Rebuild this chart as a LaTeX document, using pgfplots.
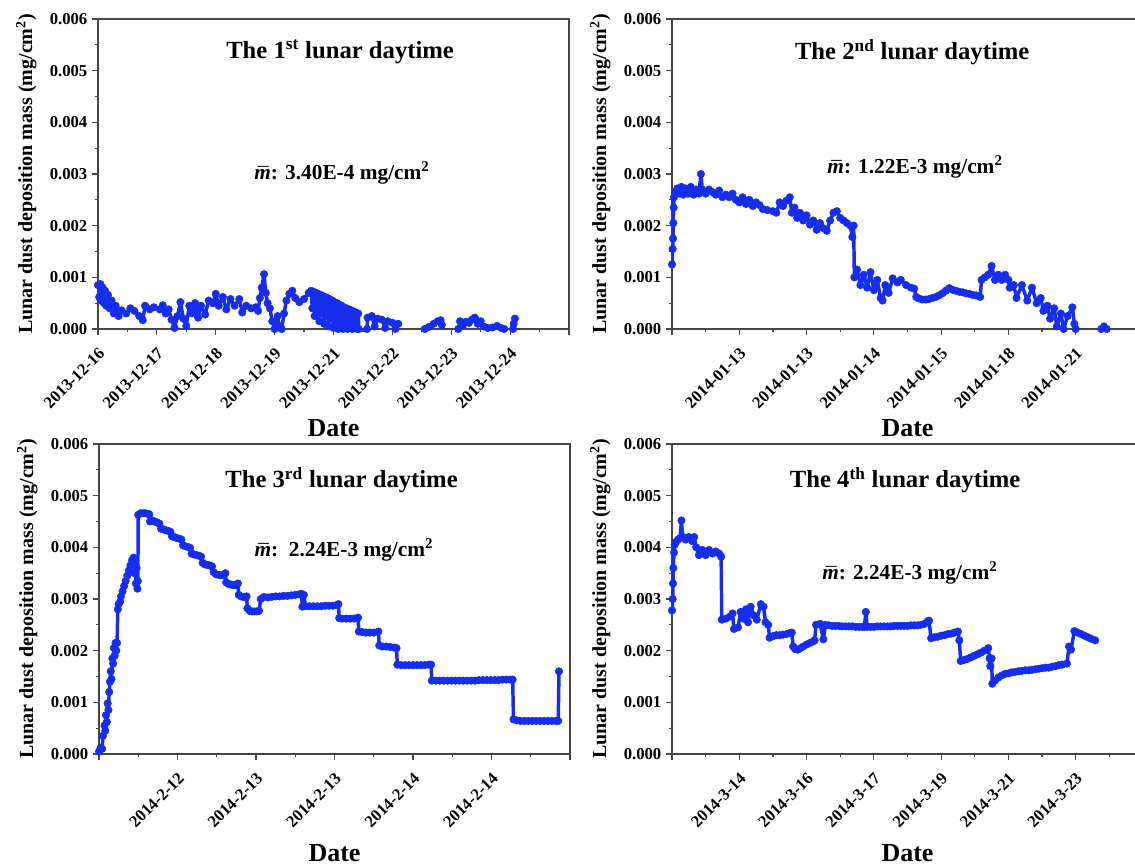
\documentclass[border=0pt]{standalone}
\usepackage{pgfplots}
\pgfplotsset{compat=1.18}
\usepackage{pgfplotstable}
\usepackage{fontspec}
\setmainfont{Liberation Serif}
\definecolor{dustblue}{RGB}{22,45,238}
\definecolor{axgray}{RGB}{70,70,70}

\pgfplotstableread{
x y
0.00 0.85
0.02 0.62
0.04 0.87
0.06 0.55
0.08 0.80
0.10 0.50
0.12 0.74
0.14 0.45
0.17 0.66
0.20 0.40
0.23 0.55
0.27 0.30
0.30 0.45
0.35 0.25
0.40 0.36
0.48 0.30
0.55 0.40
0.62 0.35
0.70 0.25
0.76 0.17
0.80 0.45
0.88 0.38
0.95 0.42
1.05 0.38
1.10 0.46
1.15 0.30
1.20 0.38
1.25 0.18
1.30 0.02
1.35 0.25
1.40 0.52
1.45 0.20
1.50 0.06
1.55 0.45
1.60 0.30
1.65 0.50
1.70 0.22
1.75 0.45
1.82 0.28
1.88 0.55
1.95 0.50
2.00 0.68
2.05 0.45
2.12 0.62
2.18 0.38
2.25 0.58
2.32 0.45
2.40 0.58
2.45 0.32
2.52 0.45
2.60 0.40
2.68 0.42
2.72 0.35
2.75 0.60
2.78 0.80
2.82 1.06
2.85 0.70
2.88 0.50
2.92 0.40
2.96 0.15
3.00 0.00
3.05 0.25
3.08 0.05
3.12 0.00
3.16 0.30
3.20 0.55
3.25 0.68
3.30 0.74
3.35 0.60
3.42 0.52
3.50 0.58
3.58 0.70
3.62 0.74
3.64 0.40
3.66 0.72
3.68 0.25
3.70 0.70
3.72 0.35
3.74 0.68
3.76 0.15
3.78 0.66
3.80 0.30
3.82 0.64
3.84 0.10
3.86 0.62
3.88 0.25
3.90 0.60
3.92 0.05
3.94 0.57
3.96 0.20
3.98 0.55
4.00 0.02
4.02 0.52
4.04 0.15
4.06 0.50
4.08 0.00
4.10 0.47
4.12 0.12
4.14 0.45
4.16 0.00
4.18 0.42
4.20 0.10
4.22 0.40
4.24 0.00
4.26 0.38
4.28 0.05
4.30 0.36
4.32 0.00
4.34 0.34
4.36 0.02
4.38 0.32
4.40 0.00
4.42 0.30
4.43 0.00
nan nan
4.57 0.00
4.58 0.22
4.65 0.25
4.70 0.05
4.75 0.20
4.82 0.18
4.88 0.02
4.92 0.15
5.00 0.12
5.05 0.00
5.10 0.10
nan nan
5.55 0.00
5.62 0.04
5.70 0.10
5.77 0.15
5.82 0.17
5.84 0.08
nan nan
6.12 0.00
6.15 0.15
6.20 0.08
6.25 0.14
6.30 0.12
6.35 0.18
6.40 0.22
6.45 0.10
6.50 0.15
6.55 0.05
6.62 0.02
6.70 0.03
6.78 0.06
6.85 0.02
6.90 0.00
nan nan
7.05 0.00
7.06 0.10
7.08 0.20
}\dataA

\pgfplotstableread{
x y
0.00 1.25
0.01 1.55
0.015 1.75
0.02 2.05
0.025 2.35
0.03 2.55
0.05 2.65
0.08 2.72
0.11 2.62
0.14 2.75
0.17 2.60
0.20 2.72
0.24 2.62
0.28 2.75
0.32 2.60
0.36 2.70
0.40 2.62
0.43 3.00
0.45 2.70
0.50 2.62
0.55 2.70
0.60 2.65
0.65 2.60
0.70 2.68
0.75 2.55
0.80 2.60
0.85 2.55
0.90 2.62
0.95 2.50
1.00 2.45
1.05 2.55
1.10 2.42
1.15 2.50
1.20 2.38
1.25 2.45
1.30 2.40
1.35 2.32
1.42 2.30
1.50 2.28
1.55 2.25
1.60 2.45
1.65 2.38
1.70 2.48
1.75 2.55
1.78 2.25
1.82 2.35
1.86 2.15
1.90 2.25
1.95 2.10
2.00 2.20
2.05 2.02
2.10 2.10
2.15 1.92
2.20 2.05
2.25 1.95
2.30 1.90
2.35 2.10
2.40 2.25
2.45 2.28
2.50 2.15
2.55 2.10
2.60 2.05
2.65 2.00
2.68 1.78
2.70 2.00
2.71 1.00
2.75 1.15
2.80 0.85
2.85 1.05
2.90 0.80
2.95 1.10
3.00 0.75
3.05 0.95
3.10 0.60
3.13 0.55
3.17 0.85
3.22 0.70
3.28 0.98
3.35 0.90
3.40 0.95
3.48 0.85
3.55 0.80
3.60 0.78
3.63 0.62
3.67 0.59
3.72 0.57
3.77 0.57
3.82 0.58
3.87 0.60
3.92 0.62
3.97 0.65
4.02 0.69
4.07 0.74
4.12 0.79
4.17 0.76
4.22 0.74
4.27 0.72
4.32 0.71
4.37 0.69
4.42 0.68
4.47 0.66
4.52 0.65
4.58 0.62
4.60 0.95
4.65 1.00
4.70 1.05
4.75 1.22
4.80 0.95
4.85 1.05
4.90 0.95
4.95 1.05
5.00 0.95
5.02 0.80
5.08 0.85
5.12 0.60
5.20 0.85
5.28 0.55
5.35 0.80
5.42 0.50
5.48 0.60
5.52 0.35
5.58 0.45
5.62 0.20
5.68 0.40
5.72 0.05
5.78 0.30
5.82 0.00
5.88 0.25
5.95 0.42
5.98 0.10
6.00 0.00
nan nan
6.38 0.00
6.42 0.05
6.46 0.00
}\dataB

\pgfplotstableread{
x y
0.00 0.05
0.02 0.12
0.04 0.10
0.05 0.35
0.07 0.55
0.08 0.45
0.09 0.75
0.10 0.62
0.11 0.98
0.12 0.85
0.13 1.20
0.14 1.40
0.15 1.60
0.16 1.45
0.17 1.85
0.18 1.75
0.19 2.05
0.20 1.90
0.21 2.15
0.22 2.00
0.23 2.15
0.24 2.80
0.25 2.90
0.27 2.95
0.28 3.05
0.30 3.15
0.32 3.25
0.34 3.35
0.36 3.45
0.38 3.55
0.40 3.65
0.42 3.75
0.44 3.80
0.45 3.50
0.46 3.75
0.47 3.30
0.48 3.60
0.49 3.20
0.495 3.35
0.50 4.63
0.53 4.66
0.56 4.66
0.59 4.66
0.62 4.65
0.64 4.64
0.65 4.50
0.68 4.52
0.71 4.50
0.74 4.48
0.77 4.46
0.79 4.36
0.82 4.35
0.85 4.33
0.88 4.32
0.91 4.30
0.93 4.21
0.96 4.20
0.99 4.18
1.02 4.17
1.05 4.15
1.07 4.04
1.10 4.02
1.13 4.01
1.16 3.99
1.18 3.88
1.21 3.86
1.24 3.85
1.27 3.84
1.30 3.82
1.32 3.70
1.35 3.67
1.38 3.66
1.41 3.65
1.44 3.63
1.46 3.52
1.49 3.48
1.52 3.47
1.55 3.46
1.58 3.46
1.61 3.50
1.62 3.32
1.65 3.29
1.68 3.28
1.71 3.27
1.74 3.27
1.77 3.30
1.78 3.08
1.81 3.05
1.84 3.04
1.87 3.03
1.88 3.05
1.89 2.82
1.92 2.77
1.95 2.76
1.98 2.76
2.01 2.76
2.04 2.77
2.06 3.00
2.10 3.04
2.15 3.03
2.20 3.04
2.25 3.05
2.30 3.05
2.35 3.06
2.40 3.06
2.45 3.07
2.50 3.08
2.55 3.09
2.58 3.10
2.59 2.85
2.61 3.08
2.63 2.86
2.68 2.86
2.73 2.86
2.78 2.86
2.83 2.86
2.88 2.87
2.93 2.87
2.98 2.87
3.03 2.88
3.05 2.90
3.06 2.63
3.10 2.62
3.15 2.62
3.20 2.62
3.25 2.62
3.30 2.64
3.31 2.37
3.35 2.36
3.40 2.35
3.45 2.35
3.50 2.35
3.56 2.37
3.57 2.10
3.61 2.08
3.66 2.08
3.71 2.07
3.76 2.06
3.79 2.05
3.80 1.73
3.85 1.72
3.90 1.72
3.95 1.72
4.00 1.72
4.05 1.72
4.10 1.72
4.15 1.72
4.20 1.73
4.23 1.73
4.24 1.42
4.29 1.42
4.34 1.42
4.39 1.42
4.44 1.42
4.49 1.42
4.54 1.42
4.59 1.42
4.64 1.42
4.69 1.42
4.74 1.42
4.79 1.42
4.84 1.43
4.89 1.43
4.94 1.43
4.99 1.43
5.04 1.43
5.09 1.43
5.14 1.44
5.19 1.44
5.24 1.44
5.27 1.44
5.28 0.67
5.32 0.65
5.37 0.64
5.42 0.64
5.47 0.64
5.52 0.64
5.57 0.64
5.62 0.64
5.67 0.64
5.72 0.64
5.77 0.64
5.82 0.64
5.85 0.64
5.86 1.60
}\dataC

\pgfplotstableread{
x y
0.00 2.78
0.01 3.00
0.015 3.30
0.02 3.60
0.03 3.90
0.04 4.05
0.06 4.10
0.09 4.15
0.12 4.18
0.14 4.52
0.16 4.20
0.20 4.15
0.25 4.20
0.30 4.12
0.33 4.20
0.36 4.00
0.40 3.85
0.45 3.95
0.50 3.85
0.55 3.95
0.60 3.88
0.65 3.92
0.70 3.88
0.73 3.82
0.74 2.60
0.80 2.62
0.86 2.66
0.90 2.72
0.92 2.42
0.98 2.45
1.02 2.75
1.06 2.62
1.10 2.80
1.13 2.55
1.17 2.85
1.22 2.68
1.26 2.60
1.32 2.90
1.36 2.85
1.39 2.55
1.43 2.50
1.45 2.25
1.50 2.28
1.55 2.30
1.60 2.30
1.65 2.31
1.70 2.32
1.75 2.34
1.78 2.35
1.80 2.08
1.83 2.03
1.87 2.02
1.91 2.05
1.95 2.08
2.00 2.12
2.05 2.15
2.10 2.18
2.12 2.20
2.14 2.50
2.20 2.52
2.25 2.22
2.28 2.50
2.33 2.49
2.38 2.48
2.43 2.48
2.48 2.48
2.53 2.47
2.58 2.47
2.63 2.47
2.68 2.47
2.73 2.46
2.78 2.46
2.83 2.46
2.86 2.46
2.88 2.75
2.90 2.46
2.95 2.46
3.00 2.46
3.05 2.47
3.10 2.47
3.15 2.47
3.20 2.47
3.25 2.47
3.30 2.48
3.35 2.48
3.40 2.48
3.45 2.48
3.50 2.48
3.55 2.49
3.60 2.49
3.65 2.49
3.70 2.50
3.75 2.52
3.80 2.57
3.82 2.58
3.85 2.24
3.90 2.26
3.95 2.27
4.00 2.29
4.05 2.30
4.10 2.32
4.15 2.33
4.20 2.35
4.25 2.37
4.27 2.20
4.29 1.80
4.34 1.82
4.39 1.84
4.44 1.87
4.49 1.90
4.54 1.93
4.59 1.96
4.64 2.00
4.70 2.05
4.72 1.85
4.73 1.70
4.75 1.85
4.76 1.36
4.80 1.42
4.85 1.48
4.90 1.52
4.95 1.55
5.00 1.56
5.05 1.58
5.10 1.59
5.15 1.60
5.20 1.61
5.25 1.62
5.30 1.62
5.35 1.63
5.40 1.64
5.45 1.65
5.50 1.66
5.55 1.67
5.60 1.67
5.65 1.69
5.70 1.70
5.75 1.72
5.80 1.73
5.87 1.75
5.90 2.08
5.93 2.02
5.98 2.38
6.03 2.35
6.08 2.32
6.13 2.29
6.18 2.26
6.23 2.23
6.29 2.20
}\dataD

\pgfplotsset{
  panel/.style={
    scale only axis, width=353.25pt, height=232.5pt,
    ymin=0, ymax=6, ytick={0,1,2,3,4,5,6},
    yticklabels={0.000,0.001,0.002,0.003,0.004,0.005,0.006},
    minor y tick num=1, minor x tick num=1,
    tick align=outside, xtick pos=bottom, ytick pos=left,
    axis line style={axgray, line width=1pt},
    every tick/.style={axgray, line width=0.9pt},
    major tick length=4.5pt, minor tick length=2.6pt,
    ticklabel style={font=\bfseries\fontsize{12.5}{13}\selectfont},
    xticklabel style={xshift=3.5pt, yshift=-11pt, rotate=45, anchor=east, inner sep=1pt},
    ylabel={Lunar dust deposition mass (mg/cm\textsuperscript{2})},
    ylabel style={font=\bfseries\fontsize{15}{16}\selectfont, yshift=3pt},
    xlabel={Date},
    xlabel style={at={(axis description cs:0.5,0)}, anchor=north, yshift=-64pt, font=\bfseries\fontsize{19.5}{20}\selectfont},
    unbounded coords=jump,
  },
  dust/.style={dustblue, line width=2.6pt, line join=round, line cap=round, mark=*, mark size=2.8pt, mark options={fill=dustblue, draw=dustblue, line width=0.4pt}},
}
\newcommand{\mbar}{\ooalign{\textit{m}\cr\hidewidth\raisebox{-0.12em}{\textit{\char"00AF}}\hidewidth\cr}}

\begin{document}
\begin{tikzpicture}
\useasboundingbox (0,0) rectangle (851.25pt,648.75pt);
% panel 1
\begin{axis}[panel, at={(73.5pt,402pt)}, anchor=south west,
  xmin=0, xmax=8, xtick={0,...,8},
  xticklabels={2013-12-16,2013-12-17,2013-12-18,2013-12-19,2013-12-21,2013-12-22,2013-12-23,2013-12-24,}]
\addplot[dust] table[x=x,y=y] {\dataA};
\node[font=\bfseries\fontsize{18.5}{20}\selectfont] at (axis description cs:0.514,0.894) {The 1\textsuperscript{st} lunar daytime};
\node[font=\bfseries\fontsize{16}{17}\selectfont] at (axis description cs:0.518,0.503) {\mbar: 3.40E-4 mg/cm\textsuperscript{2}};
\end{axis}
% panel 2
\begin{axis}[panel, at={(504pt,402pt)}, anchor=south west,
  xmin=0, xmax=7, xtick={0,...,7},
  xticklabels={,2014-01-13,2014-01-13,2014-01-14,2014-01-15,2014-01-18,2014-01-21,}]
\addplot[dust] table[x=x,y=y] {\dataB};
\node[font=\bfseries\fontsize{18.5}{20}\selectfont] at (axis description cs:0.51,0.894) {The 2\textsuperscript{nd} lunar daytime};
\node[font=\bfseries\fontsize{16}{17}\selectfont] at (axis description cs:0.516,0.523) {\mbar: 1.22E-3 mg/cm\textsuperscript{2}};
\end{axis}
% panel 3
\begin{axis}[panel, at={(74.25pt,83.25pt)}, anchor=south west,
  xmin=0, xmax=6, xtick={0,...,6},
  xticklabels={,2014-2-12,2014-2-13,2014-2-13,2014-2-14,2014-2-14,}]
\addplot[dust] table[x=x,y=y] {\dataC};
\node[font=\bfseries\fontsize{18.5}{20}\selectfont] at (axis description cs:0.515,0.884) {The 3\textsuperscript{rd} lunar daytime};
\node[font=\bfseries\fontsize{16}{17}\selectfont] at (axis description cs:0.52,0.658) {\mbar:\ \ 2.24E-3 mg/cm\textsuperscript{2}};
\end{axis}
% panel 4
\begin{axis}[panel, at={(504pt,83.25pt)}, anchor=south west,
  xmin=0, xmax=7, xtick={0,...,7},
  xticklabels={,2014-3-14,2014-3-16,2014-3-17,2014-3-19,2014-3-21,2014-3-23,}]
\addplot[dust] table[x=x,y=y] {\dataD};
\node[font=\bfseries\fontsize{18.5}{20}\selectfont] at (axis description cs:0.495,0.884) {The 4\textsuperscript{th} lunar daytime};
\node[font=\bfseries\fontsize{16}{17}\selectfont] at (axis description cs:0.505,0.584) {\mbar: 2.24E-3 mg/cm\textsuperscript{2}};
\end{axis}
\end{tikzpicture}
\end{document}
